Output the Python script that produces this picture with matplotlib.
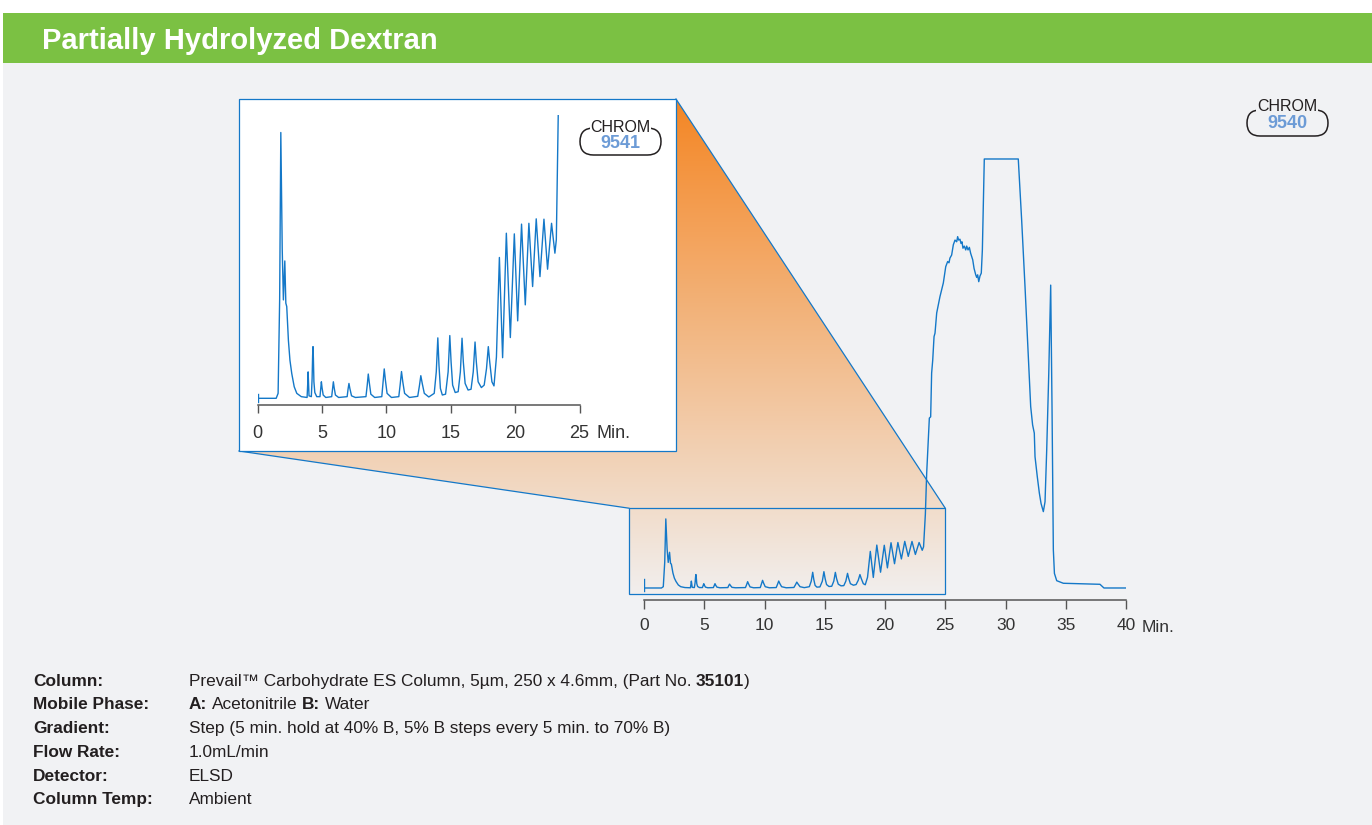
import numpy as np
import matplotlib
matplotlib.use('Agg')
import matplotlib.pyplot as plt
from matplotlib.patches import Rectangle, Polygon, FancyBboxPatch
from matplotlib import font_manager

# chromatogram (minutes, detector response; 100 = detector saturated)
time_min = [0.0, 1.45, 1.6, 1.72, 1.81, 1.92, 2.01, 2.12, 2.2, 2.27, 2.4, 2.52, 2.66, 2.85, 3.05, 3.4,
            3.85, 3.9, 3.93, 3.96, 4.0, 4.18, 4.24, 4.28, 4.31, 4.34, 4.38, 4.45, 4.6,
            4.85, 4.91, 4.96, 5.01, 5.1, 5.3, 5.76, 5.83, 5.89, 5.95, 6.05, 6.3,
            6.96, 7.03, 7.1, 7.17, 7.3, 7.6, 8.42, 8.52, 8.6, 8.68, 8.8, 9.1,
            9.65, 9.75, 9.84, 9.93, 10.06, 10.4, 10.97, 11.08, 11.18, 11.28, 11.42, 11.8,
            12.44, 12.57, 12.68, 12.79, 12.95, 13.3, 13.72, 13.88, 14.0, 14.09, 14.2, 14.35,
            14.6, 14.8, 14.93, 15.03, 15.15, 15.35, 15.58, 15.75, 15.88, 15.98, 16.12, 16.35,
            16.58, 16.75, 16.89, 16.99, 17.13, 17.38, 17.6, 17.78, 17.92, 18.03, 18.2, 18.36,
            18.55, 18.78, 19.03, 19.32, 19.63, 19.94, 20.2, 20.5, 20.79, 21.07, 21.36, 21.64, 21.93,
            22.24, 22.52, 22.83, 23.09, 23.2, 23.35, 23.46, 23.68, 23.79, 23.87, 23.96, 24.07, 24.15,
            24.29, 24.56, 24.84, 25.04, 25.2, 25.31, 25.39, 25.53, 25.67, 25.81, 25.95, 26.03, 26.11,
            26.22, 26.31, 26.39, 26.47, 26.58, 26.7, 26.78, 26.89, 27.0, 27.11, 27.28, 27.39, 27.53,
            27.61, 27.69, 27.78, 27.88, 27.99, 28.08, 28.16, 28.24, 31.06, 31.34, 31.62, 31.89, 32.09,
            32.25, 32.39, 32.45, 32.64, 32.81, 32.95, 33.14, 33.28, 33.42, 33.59, 33.75, 33.86, 33.97,
            34.06, 34.25, 34.8, 37.84, 38.17, 40.0]
response = [0.0, 0.0, 0.3, 6.0, 16.1, 9.0, 5.96, 8.32, 5.76, 5.56, 3.5, 2.3, 1.5, 0.7, 0.3, 0.1,
            0.05, 0.9, 1.6, 0.9, 0.15, 0.1, 1.2, 2.6, 3.13, 2.4, 1.0, 0.35, 0.1,
            0.1, 0.6, 1.0, 0.65, 0.2, 0.05, 0.1, 0.6, 1.0, 0.65, 0.2, 0.05,
            0.1, 0.55, 0.9, 0.6, 0.15, 0.05, 0.1, 0.8, 1.47, 0.95, 0.25, 0.05,
            0.1, 0.95, 1.78, 1.1, 0.3, 0.05, 0.1, 0.85, 1.62, 1.0, 0.3, 0.05,
            0.12, 0.75, 1.37, 0.9, 0.3, 0.08, 0.3, 1.6, 3.66, 2.0, 0.6, 0.2,
            0.25, 1.6, 3.8, 2.2, 0.8, 0.35, 0.4, 1.6, 3.64, 2.2, 0.9, 0.5,
            0.55, 1.6, 3.41, 2.2, 1.0, 0.65, 0.8, 1.8, 3.13, 2.2, 1.0, 0.75,
            2.5, 8.53, 2.46, 10.0, 3.68, 9.96, 4.69, 10.55, 5.66, 10.6, 6.77, 10.87, 7.37,
            10.85, 7.82, 10.6, 8.79, 9.6, 17.2, 26.8, 39.6, 39.9, 50.1, 53.1, 58.6, 59.4,
            64.1, 67.9, 71.1, 74.9, 76.1, 75.8, 76.9, 77.6, 80.0, 81.1, 80.7, 81.9, 81.1,
            81.3, 80.3, 80.7, 79.2, 79.7, 78.8, 79.7, 78.8, 79.4, 78.0, 76.5, 74.5, 73.0,
            72.4, 73.0, 71.4, 72.7, 73.4, 78.8, 88.9, 100.0, 100.0, 85.8, 70.2, 53.9, 42.3,
            38.0, 36.1, 30.6, 25.9, 22.1, 19.7, 17.8, 20.1, 32.2, 50.0, 70.6, 42.3, 8.9,
            3.4, 1.7, 1.1, 0.86, 0.0, 0.0]

# injection marks at t = 0
inject_main = [-0.6, 2.1]
inject_inset = [-0.2, 0.25]

main_ticks = [0, 5, 10, 15, 20, 25, 30, 35, 40]
inset_ticks = [0, 5, 10, 15, 20, 25]

conditions = [
    ("Column:", [("Prevail\u2122 Carbohydrate ES Column, 5\u00b5m, 250 x 4.6mm, (Part No.", False, 0),
                 ("35101", True, 1), (")", False, 0)]),
    ("Mobile Phase:", [("A:", True, 0), ("Acetonitrile", False, 1), ("B:", True, 1), ("Water", False, 1)]),
    ("Gradient:", [("Step (5 min. hold at 40% B, 5% B steps every 5 min. to 70% B)", False, 0)]),
    ("Flow Rate:", [("1.0mL/min", False, 0)]),
    ("Detector:", [("ELSD", False, 0)]),
    ("Column Temp:", [("Ambient", False, 0)]),
]

W, H = 1372, 825
BLUE = '#1478c8'
GREY_BG = '#f1f2f4'
INK = '#231f20'

names = {f.name for f in font_manager.fontManager.ttflist}
narrow = 'Liberation Sans Narrow' if 'Liberation Sans Narrow' in names else 'Liberation Sans'
plt.rcParams['font.family'] = ['Liberation Sans', 'DejaVu Sans']

fig = plt.figure(figsize=(W / 100, H / 100), dpi=100)
fig.patch.set_facecolor('white')

bg = fig.add_axes([0, 0, 1, 1])
bg.set_xlim(0, W)
bg.set_ylim(H, 0)
bg.axis('off')
bg.add_patch(Rectangle((3, 13), W - 3, H - 13, fc=GREY_BG, ec='none', zorder=0))
bg.add_patch(Rectangle((3, 13), W - 3, 49.5, fc='#7bc143', ec='none', zorder=1))
bg.text(42, 49, 'Partially Hydrolyzed Dextran', color='white', fontsize=21,
        fontweight='bold', va='baseline', ha='left', zorder=2)


def px_axes(x0, ytop, x1, ybot):
    return fig.add_axes([x0 / W, 1 - ybot / H, (x1 - x0) / W, (ybot - ytop) / H])


def style_axis(a, ticks, size, pad, length):
    a.patch.set_alpha(0)
    for s in ('left', 'right', 'top'):
        a.spines[s].set_visible(False)
    a.spines['bottom'].set_color('#555555')
    a.spines['bottom'].set_linewidth(1.1)
    a.set_yticks([])
    a.set_xticks(ticks)
    a.set_xticklabels([str(t) for t in ticks])
    a.tick_params(axis='x', direction='out', length=length, width=1.0, color='#555555',
                  labelsize=size, labelcolor='#333333', pad=pad)


# main chromatogram
ax = px_axes(644, 100, 1126, 600)
ax.set_zorder(3)
ax.set_xlim(0, 40)
ax.set_ylim(-2.8, 113.75)
style_axis(ax, main_ticks, 12.5, 6.5, 6.5)
ax.plot(time_min, response, color=BLUE, lw=1.0, solid_joinstyle='round')
ax.plot([0, 0], inject_main, color=BLUE, lw=1.0)
ax.text(41.3, -0.054, 'Min.', transform=ax.get_xaxis_transform(), fontsize=12.5,
        color='#333333', ha='left', va='center')

# zoomed region 0-25 min in main axes data units
zx0, zx1, zy0, zy1 = -1.25, 25.0, -1.4, 18.6
fig.canvas.draw()
def to_bg(pt):
    d = ax.transData.transform(pt)
    return d[0], H - d[1]
bl = to_bg((zx0, zy0)); br = to_bg((zx1, zy0)); tl = to_bg((zx0, zy1)); tr = to_bg((zx1, zy1))

ins_l, ins_t, ins_r, ins_b = 239, 99, 676, 451

# gradient wedge between inset and zoom box
poly = Polygon([(ins_l, ins_b), (ins_l, ins_t), (ins_r, ins_t), tr, br, bl, tl],
               closed=True, fc='none', ec='none')
bg.add_patch(poly)
orange = np.array([244, 134, 36]) / 255
grey = np.array([241, 242, 244]) / 255
f = np.linspace(0, 1, 300)[:, None]
grad = (orange * (1 - f) + grey * f)[:, None, :]
im = bg.imshow(grad, extent=(ins_l, br[0], 610, ins_t), aspect='auto', zorder=1.5,
               interpolation='bilinear')
im.set_clip_path(poly)
bg.set_xlim(0, W)
bg.set_ylim(H, 0)

bg.plot([ins_l, tl[0]], [ins_b, tl[1]], color=BLUE, lw=0.9, zorder=2)
bg.plot([ins_r, tr[0]], [ins_t, tr[1]], color=BLUE, lw=0.9, zorder=2)
bg.add_patch(Rectangle((tl[0], tl[1]), tr[0] - tl[0], bl[1] - tl[1], fc='none', ec=BLUE,
                       lw=0.9, zorder=2))
bg.add_patch(Rectangle((ins_l, ins_t), ins_r - ins_l, ins_b - ins_t, fc='white', ec=BLUE,
                       lw=0.9, zorder=2))

# inset chromatogram
ax2 = px_axes(257.5, 115, 579.5, 405.5)
ax2.set_zorder(4)
ax2.set_xlim(0, 25)
ax2.set_ylim(-0.436, 17.16)
style_axis(ax2, inset_ticks, 13, 8, 6)
ax2.plot(time_min, response, color=BLUE, lw=1.0, solid_joinstyle='round')
ax2.plot([0, 0], inject_inset, color=BLUE, lw=1.0)
ax2.text(26.3, -0.0964, 'Min.', transform=ax2.get_xaxis_transform(), fontsize=13,
         color='#333333', ha='left', va='center')


def badge(left, top, right, bot, cx, base1, base2, num, face):
    h = bot - top
    bg.add_patch(FancyBboxPatch((left, top), right - left, h,
                                boxstyle='round,pad=0,rounding_size=%.1f' % (h / 2),
                                fc='none', ec=INK, lw=1.1, zorder=5))
    bg.text(cx, base1, 'CHROM', ha='center', va='baseline', fontsize=11.5, color=INK,
            bbox=dict(fc=face, ec='none', pad=0.6), zorder=6)
    bg.text(cx, base2, num, ha='center', va='baseline', fontsize=13, fontweight='bold',
            color='#6c9bd6', zorder=6)


badge(580, 128, 661, 155, 620.5, 132, 148, '9541', 'white')
badge(1247, 110, 1328, 136, 1287, 111, 128, '9540', GREY_BG)

# run conditions
renderer = fig.canvas.get_renderer()
base = 685.7
for label, parts in conditions:
    bg.text(33, base, label, family=narrow, fontweight='bold', fontsize=12.4, color=INK,
            va='baseline', zorder=5)
    x = 189
    for s, bold, gap in parts:
        x += gap * 4.5
        t = bg.text(x, base, s, family=narrow, fontweight='bold' if bold else 'normal',
                    fontsize=12.4, color=INK, va='baseline', zorder=5)
        x += t.get_window_extent(renderer=renderer).width
    base += 23.7

fig.savefig('out.png', dpi=100, facecolor=fig.get_facecolor())
